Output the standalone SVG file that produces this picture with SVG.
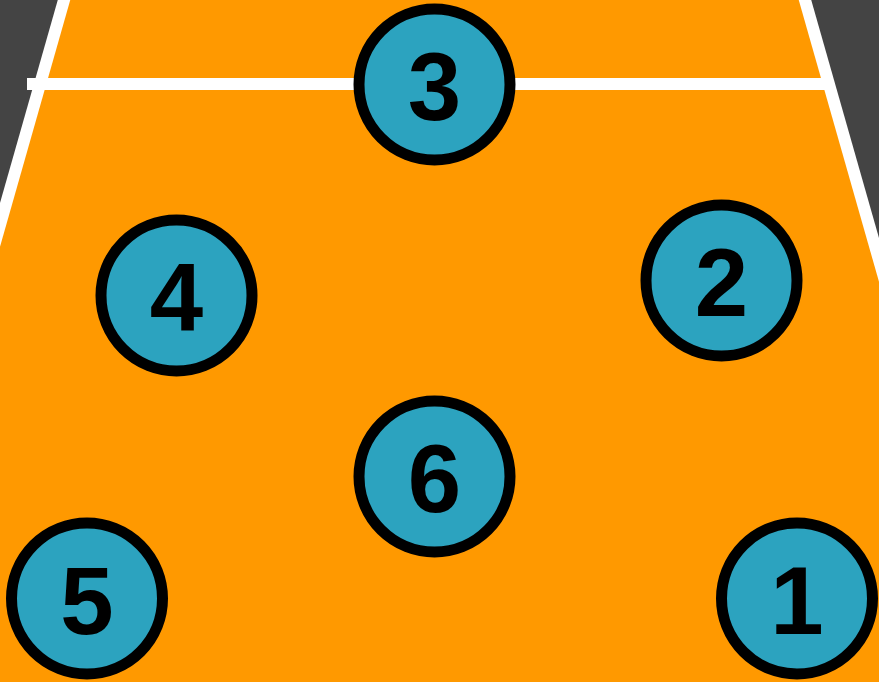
<svg xmlns="http://www.w3.org/2000/svg" width="879" height="682" viewBox="0 0 879 682">
<style>
.p circle{fill:#2CA3BF;stroke:#000;stroke-width:11}
.p text{font-family:"Liberation Sans",Arial,sans-serif;font-weight:bold;font-size:96px;fill:#000;text-anchor:middle}
.ln{stroke:#fff;stroke-width:12;fill:none}
</style>
<rect width="879" height="682" fill="#444444"/>
<polygon points="64,0 805,0 879,260 879,682 0,682 0,225" fill="#FF9900"/>
<g id="court-lines">
<line class="ln" x1="68" y1="-14" x2="-6" y2="246"/>
<line class="ln" x1="801" y1="-14" x2="885" y2="281"/>
<line class="ln" x1="27" y1="84" x2="826" y2="84" stroke-width="11"/>
</g>
<g id="p3" class="p"><circle cx="434.5" cy="84.5" r="75.5"/><text x="434.5" y="119.5">3</text></g>
<g id="p4" class="p"><circle cx="176.5" cy="295.5" r="75.5"/><text x="176.5" y="330.5">4</text></g>
<g id="p2" class="p"><circle cx="721.5" cy="280.5" r="75.5"/><text x="721.5" y="315.5">2</text></g>
<g id="p6" class="p"><circle cx="434.5" cy="476.5" r="75.5"/><text x="434.5" y="511.5">6</text></g>
<g id="p5" class="p"><circle cx="87" cy="598.5" r="75.5"/><text x="87" y="633.5">5</text></g>
<g id="p1" class="p"><circle cx="797" cy="598.5" r="75.5"/><text x="797" y="633.5">1</text></g>
</svg>
